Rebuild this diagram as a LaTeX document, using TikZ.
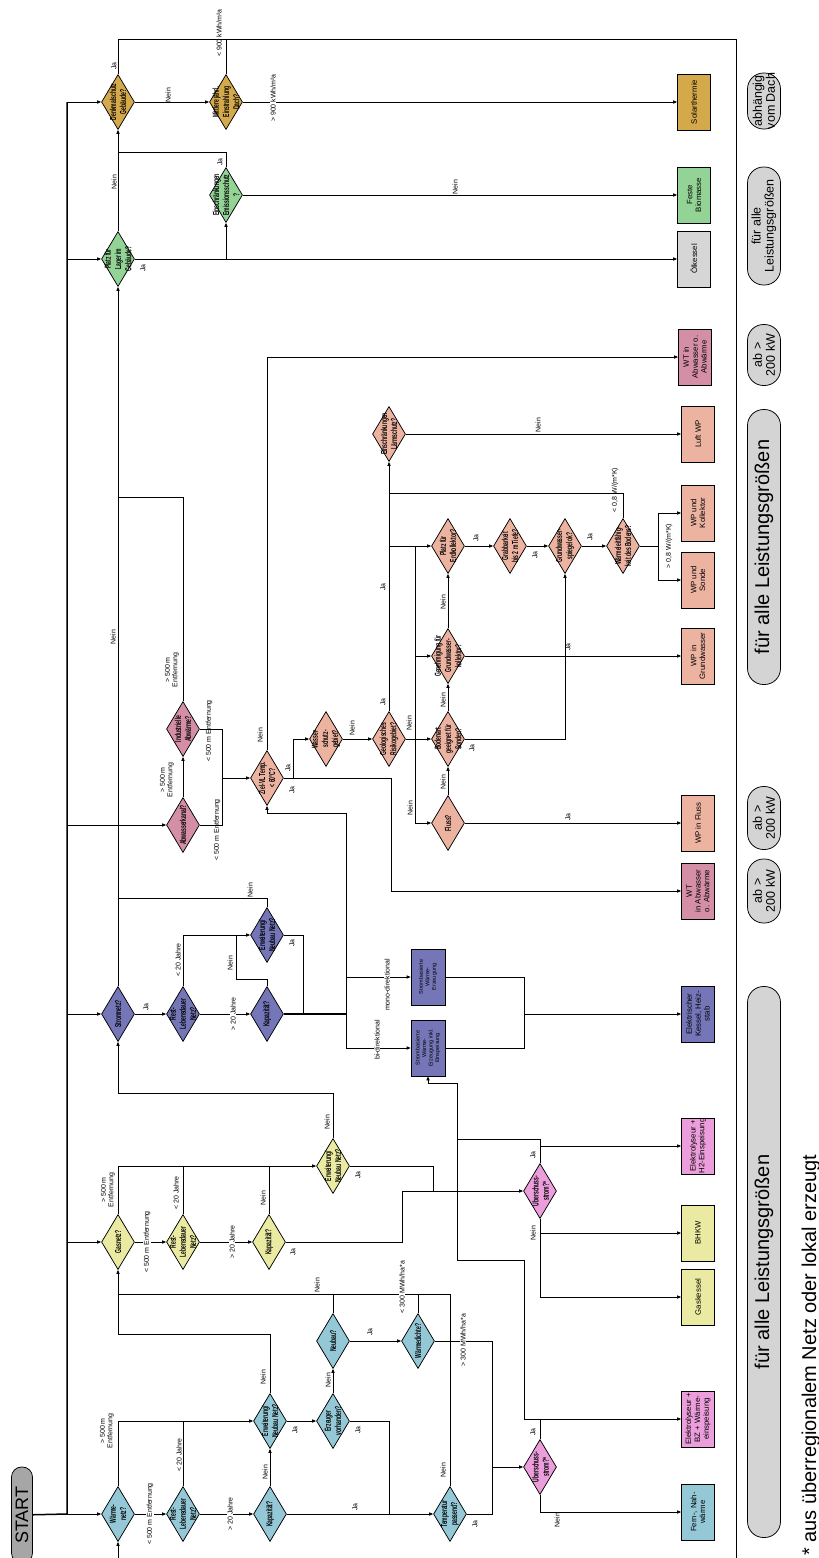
\documentclass[tikz,border=0pt]{standalone}
\usepackage{fontspec}
\setmainfont{Liberation Sans}
\setsansfont{Liberation Sans}
\usetikzlibrary{arrows.meta, shapes.geometric}
\definecolor{cgold}{HTML}{D4A94C}
\definecolor{cgreen}{HTML}{94D396}
\definecolor{cgray}{HTML}{D6D6D6}
\definecolor{cmauve}{HTML}{D48FA6}
\definecolor{csalmon}{HTML}{EDB3A1}
\definecolor{cpurple}{HTML}{7476B8}
\definecolor{cyellow}{HTML}{EAEAA2}
\definecolor{cpink}{HTML}{EB9EDB}
\definecolor{cblue}{HTML}{94C8D6}
\definecolor{cpill}{HTML}{D4D4D4}
\definecolor{cstart}{HTML}{A6A6A6}
\tikzset{every node/.style={font=\sffamily}}

\begin{document}
\begin{tikzpicture}[
  x=1pt, y=-1pt, line width=0.75pt,
  dec/.style={diamond, draw, inner sep=0pt, minimum width=33pt, minimum height=55pt},
  dtxt/.style={rotate=90, yscale=1.75, inner sep=0pt, align=center, font=\fontsize{5}{5.8}\selectfont\bfseries},
  resbox/.style={rectangle, draw, inner sep=0pt, minimum width=33pt, minimum height=56pt},
  btxt/.style={rotate=90, inner sep=0pt, align=center, font=\fontsize{7.8}{8.8}\selectfont},
  stxt/.style={rotate=90, inner sep=0pt, align=center, font=\fontsize{5.5}{6.5}\selectfont},
  pill/.style={draw, fill=cpill, rounded corners=16pt, minimum width=33pt, inner sep=0pt},
  ptxt/.style={rotate=90, inner sep=0pt, align=center, font=\fontsize{12.5}{13}\selectfont},
  bigtxt/.style={rotate=90, inner sep=0pt, font=\fontsize{20}{22}\selectfont},
  lab/.style={rotate=90, inner sep=0.5pt, align=center, font=\fontsize{7}{7.5}\selectfont},
  wlab/.style={lab, fill=white},
  arr/.style={-{Triangle[length=4pt,width=3.2pt]}},
  trunk/.style={line width=1.5pt}
]
\useasboundingbox (0,0) rectangle (819,1558);

% start and trunk
\node[pill, fill=cstart, rounded corners=10pt, minimum width=21pt, minimum height=96pt,
  label={[rotate=90, inner sep=0pt, font=\fontsize{18}{20}\selectfont]center:START}] (start) at (22,1515) {};
\coordinate (t0) at (67,1514);
\coordinate (ttop) at (67,102);
\coordinate (wnin) at (118,1558);
\coordinate (rtop) at (736,39);
\coordinate (rbot) at (736,1558);

% Dach / Lager
\node[dec, fill=cgold, label={[dtxt]center:{Denkmalschutz\\Gebäude?}}] (dsg) at (118,102) {};
\node[dec, fill=cgold, label={[dtxt]center:{Mittlere jährl.\\Einstrahlung\\Dach?}}] (ejd) at (226,102) {};
\node[dec, fill=cgreen, label={[dtxt]center:{Platz für\\Lager im\\Gebäude?}}] (plg) at (118,259) {};
\node[dec, fill=cgreen, label={[dtxt]center:{Einschränkungen\\Emissionsschutz\\?}}] (ems) at (226,195) {};

% Abwasser / Waermepumpe
\node[dec, fill=cmauve, label={[dtxt]center:{Abwasserkanal?}}] (abk) at (183,825) {};
\node[dec, fill=cmauve, label={[dtxt]center:{Industrielle\\Abwärme?}}] (iab) at (183,729) {};
\node[dec, fill=csalmon, label={[dtxt]center:{Ziel-VL Temp.\\< 60°C?}}] (ziel) at (267,778) {};
\node[dec, fill=csalmon, label={[dtxt]center:{Wasser-\\schutz-\\gebiet?}}] (wss) at (326,739) {};
\node[dec, fill=csalmon, label={[dtxt]center:{Geologisches\\Risikogebiet?}}] (geo) at (389,739) {};
\node[dec, fill=csalmon, label={[dtxt]center:{Einschränkungen\\Lärmschutz?}}] (laerm) at (389,434) {};
\node[dec, fill=csalmon, label={[dtxt]center:{Platz für\\Erdkollektor?}}] (pek) at (448,546) {};
\node[dec, fill=csalmon, label={[dtxt]center:{Grabbarkeit\\bis 2 m Tiefe?}}] (grab) at (510,546) {};
\node[dec, fill=csalmon, label={[dtxt]center:{Grundwasser-\\spiegel ok?}}] (gws) at (565,546) {};
\node[dec, fill=csalmon, label={[dtxt]center:{Wärmeleitfähig-\\keit des Bodens?}}] (wlf) at (623,546) {};
\node[dec, fill=csalmon, label={[dtxt]center:{Genehmigung für\\Grundwasser-\\kollektor?}}] (gen) at (448,656) {};
\node[dec, fill=csalmon, label={[dtxt]center:{Bodenart\\geeignet für\\Sonden?}}] (bod) at (448,739) {};
\node[dec, fill=csalmon, label={[dtxt]center:{Fluss?}}] (fluss) at (448,823) {};

% Strom
\node[dec, fill=cpurple, label={[dtxt]center:{Stromnetz?}}] (snz) at (118,1014) {};
\node[dec, fill=cpurple, label={[dtxt]center:{Rest-\\Lebensdauer\\Netz?}}] (srl) at (183,1014) {};
\node[dec, fill=cpurple, label={[dtxt]center:{Kapazität?}}] (skp) at (267,1014) {};
\node[dec, fill=cpurple, label={[dtxt]center:{Erweiterung/\\Neubau Netz?}}] (sew) at (267,935) {};
\node[resbox, fill=cpurple, minimum width=34pt, label={[stxt]center:{Strombasierte\\Wärme-\\Erzeugung}}] (smono) at (428,977) {};
\node[resbox, fill=cpurple, minimum width=34pt, label={[stxt]center:{Strombasierte\\Wärme-\\Erzeugung inkl.\\Einspeisung}}] (sbi) at (428,1048) {};

% Gas
\node[dec, fill=cyellow, label={[dtxt]center:{Gasnetz?}}] (gnz) at (118,1242) {};
\node[dec, fill=cyellow, label={[dtxt]center:{Rest-\\Lebensdauer\\Netz?}}] (grl) at (183,1242) {};
\node[dec, fill=cyellow, label={[dtxt]center:{Kapazität?}}] (gkp) at (269,1242) {};
\node[dec, fill=cyellow, label={[dtxt]center:{Erweiterung/\\Neubau Netz?}}] (gew) at (333,1166) {};
\node[dec, fill=cpink, label={[dtxt]center:{Überschuss-\\strom?*}}] (gub) at (540,1191) {};

% Waermenetz
\node[dec, fill=cblue, label={[dtxt]center:{Wärme-\\netz?}}] (wnz) at (118,1514) {};
\node[dec, fill=cblue, label={[dtxt]center:{Rest-\\Lebensdauer\\Netz?}}] (wrl) at (183,1514) {};
\node[dec, fill=cblue, label={[dtxt]center:{Kapazität?}}] (wkp) at (270,1514) {};
\node[dec, fill=cblue, label={[dtxt]center:{Erweiterung/\\Neubau Netz?}}] (wew) at (270,1421) {};
\node[dec, fill=cblue, label={[dtxt]center:{Erzeuger\\vorhanden?}}] (wez) at (333,1421) {};
\node[dec, fill=cblue, label={[dtxt]center:{Neubau?}}] (wnb) at (333,1341) {};
\node[dec, fill=cblue, label={[dtxt]center:{Wärmedichte?}}] (wwd) at (418,1341) {};
\node[dec, fill=cblue, label={[dtxt]center:{Temperatur\\passend?}}] (wtp) at (450,1514) {};
\node[dec, fill=cpink, label={[dtxt]center:{Überschuss-\\strom?*}}] (wub) at (540,1467) {};

% results
\node[resbox, fill=cgold, label={[btxt]center:{Solarthermie}}] (bsol) at (694,102) {};
\node[resbox, fill=cgreen, label={[btxt]center:{Feste\\Biomasse}}] (bbio) at (694,195) {};
\node[resbox, fill=cgray, label={[btxt]center:{Ölkessel}}] (boel) at (694,259) {};
\node[resbox, fill=cmauve, label={[btxt]center:{WT in\\Abwasser o.\\Abwärme}}] (bwt1) at (695,357) {};
\node[resbox, fill=csalmon, label={[btxt]center:{Luft WP}}] (bluft) at (698,434) {};
\node[resbox, fill=csalmon, label={[btxt]center:{WP und\\Kollektor}}] (bkol) at (698,513) {};
\node[resbox, fill=csalmon, label={[btxt]center:{WP und\\Sonde}}] (bson) at (698,580) {};
\node[resbox, fill=csalmon, label={[btxt]center:{WP in\\Grundwasser}}] (bgw) at (698,656) {};
\node[resbox, fill=csalmon, label={[btxt]center:{WP in Fluss}}] (bflu) at (698,823) {};
\node[resbox, fill=cmauve, label={[btxt]center:{WT\\in Abwasser\\o. Abwärme}}] (bwt2) at (698,891) {};
\node[resbox, fill=cpurple, label={[btxt]center:{Elektrischer\\Kessel, Heiz-\\stab}}] (bkes) at (698,1014) {};
\node[resbox, fill=cpink, label={[btxt]center:{Elektrolyseur +\\H2-Einspeisung}}] (beh2) at (698,1146) {};
\node[resbox, fill=cyellow, label={[btxt]center:{BHKW}}] (bbhk) at (698,1233) {};
\node[resbox, fill=cyellow, label={[btxt]center:{Gaskessel}}] (bgas) at (698,1297) {};
\node[resbox, fill=cpink, label={[btxt]center:{Elektrolyseur +\\BZ + Wärme-\\einspeisung}}] (bebz) at (698,1419) {};
\node[resbox, fill=cblue, label={[btxt]center:{Fern-, Nah-\\wärme}}] (bfern) at (698,1512) {};

% sizes
\node[pill, minimum height=56pt, label={[ptxt]center:{abhängig\\vom Dach}}] (p1) at (764,101) {};
\node[pill, minimum height=118pt, label={[ptxt]center:{für alle\\Leistungsgrößen}}] (p2) at (764,226) {};
\node[pill, minimum height=61pt, label={[ptxt]center:{ab >\\200 kW}}] (p3) at (764,355) {};
\node[pill, minimum height=275pt, label={[bigtxt]center:{für alle Leistungsgrößen}}] (p4) at (764,547) {};
\node[pill, minimum height=63pt, label={[ptxt]center:{ab >\\200 kW}}] (p5) at (764,818) {};
\node[pill, minimum height=64pt, label={[ptxt]center:{ab >\\200 kW}}] (p6) at (764,891) {};
\node[pill, minimum height=551pt, label={[bigtxt]center:{für alle Leistungsgrößen}}] (p7) at (764,1262) {};
\node[bigtxt, anchor=base] (fnote) at (816,1355) {* aus überregionalem Netz oder lokal erzeugt};

% trunk
\draw[trunk] (start) -- (t0) -- (ttop);
\draw[arr] (ttop) -- (dsg);
\draw[arr] (ttop |- plg) -- (plg);
\draw[arr] (ttop |- abk) -- (abk);
\draw[arr] (ttop |- snz) -- (snz);
\draw[arr] (ttop |- gnz) -- (gnz);
\draw[arr] (t0) -- (wnz);
\draw[arr] (wnin) -- (wnz);

% Dach / Lager
\draw[arr] (dsg) -- (ejd);
\draw[arr] (ejd) -- (bsol);
\draw (dsg.north) |- (rtop) -- (rbot);
\draw (ejd.north) -- (ejd.north |- rtop);
\draw[arr] (plg) -- (boel);
\draw[arr] (ems |- plg) -- (ems);
\draw[arr] (plg) -- (dsg);
\draw (ems.north) |- (dsg |- 0,152);
\draw[arr] (ems) -- (bbio);
\draw[arr] (snz) -- (plg);
\draw (iab.north) |- (plg |- 0,497);
\draw (sew.north) |- (plg |- 0,898);

% Abwasser / Waermepumpe
\coordinate (zj) at (222,778);
\coordinate (zj2) at (293,778);
\coordinate (gb) at (415,739);
\coordinate (wj3) at (658,546);
\draw[arr] (abk) -- (iab);
\draw (abk) -| (zj);
\draw (iab) -| (zj);
\draw[arr] (zj) -- (ziel);
\draw[arr] (ziel.north) |- (bwt1);
\draw[arr] (ziel) -- (zj2) |- (wss);
\draw[arr] (zj2) -| (391,891) -- (bwt2);
\draw[arr] (wss) -- (geo);
\draw[arr] (geo) -- (laerm);
\draw[arr] (geo.north |- pek) -- (pek);
\draw[arr] (laerm) -- (bluft);
\draw[arr] (geo) -- (bod);
\draw (gb |- pek) -- (gb |- fluss);
\draw[arr] (gb |- gen) -- (gen);
\draw[arr] (gb |- fluss) -- (fluss);
\draw[arr] (pek) -- (grab);
\draw[arr] (grab) -- (gws);
\draw[arr] (gws) -- (wlf);
\draw (wlf) -- (wj3);
\draw[arr] (wj3) |- (bkol);
\draw[arr] (wj3) |- (bson);
\draw (wlf.north) |- (laerm |- 0,493);
\draw[arr] (gen) -- (bgw);
\draw[arr] (bod) -| (gws);
\draw[arr] (fluss) -- (bflu);
\draw[arr] (fluss) -- (bod);
\draw[arr] (bod) -- (gen);
\draw[arr] (gen) -- (pek);

% Strom
\coordinate (sb) at (346,1014);
\coordinate (ej2) at (524,1014);
\draw[arr] (snz) -- (srl);
\draw[arr] (srl) -- (skp);
\draw[arr] (srl.north) |- (sew);
\draw (skp.north) |- (236,979) -- (236,935);
\draw (sew) -| (303,1014);
\draw[line width=1.1pt] (skp) -- (sb);
\draw[arr] (sb) |- (ziel |- 0,813) -- (ziel);
\draw[arr] (sb) |- (smono);
\draw[arr] (sb) |- (sbi);
\draw (smono) -| (ej2);
\draw (sbi) -| (ej2);
\draw[arr] (ej2) -- (bkes);

% Gas
\coordinate (gj) at (402,1191);
\coordinate (sj) at (457,1083);
\draw[arr] (gnz) -- (grl);
\draw[arr] (grl) -- (gkp);
\draw[arr] (gnz.north) |- (gew);
\draw (grl.north) -- (grl |- gew);
\draw (gkp.north) -- (gkp |- gew);
\draw[arr] (gew.north) |- (snz |- 0,1093) -- (snz);
\draw (gew) -| (433,1191);
\draw (gkp) -| (gj);
\draw[arr] (gj) -- (gub);
\draw[arr] (gub.north) |- (beh2);
\draw[arr] (gub.south) |- (bbhk);
\draw[arr] (gub.south) |- (bgas);
\draw (gub.north) |- (sj |- 0,1139) -- (sj);
\draw[arr] (sj) -| (sbi);

% Waermenetz
\coordinate (wj1) at (389,1514);
\coordinate (wj2) at (492,1467);
\draw[arr] (wnz) -- (wrl);
\draw[arr] (wrl) -- (wkp);
\draw[arr] (wnz.north) |- (wew);
\draw (wrl.north) -- (wrl |- wew);
\draw[arr] (wkp) -- (wew);
\draw[arr] (wew.north) |- (wnz |- 0,1334) -- (gnz);
\draw[arr] (wew) -- (wez);
\draw (wez) -| (wj1);
\draw[arr] (wkp) -- (wtp);
\draw[arr] (wez) -- (wnb);
\draw (wnb.north) -- (wnb |- 0,1294);
\draw (wwd.north) -- (wwd |- 0,1294);
\draw (wtp.north) |- (wnz |- 0,1294);
\draw[arr] (wnb) -- (wwd);
\draw (wwd) -| (wj2);
\draw (wtp) -| (wj2);
\draw[arr] (wj2) -- (wub);
\draw[arr] (wub.north) |- (bebz);
\draw (wub.north |- bebz) -| (524,1260) -| (sj);
\draw[arr] (wub.south) |- (bfern);

% labels
\node[lab] (l1) at (114,66) {Ja};
\node[lab] (l2) at (168,95) {Nein};
\node[lab] (l3) at (219,33) {< 900 kWh/m²a};
\node[wlab] (l4) at (273,98) {> 900 kWh/m²a};
\node[lab] (l5) at (220,162) {Ja};
\node[lab] (l6) at (114,182) {Nein};
\node[lab] (l7) at (143,268) {Ja};
\node[lab] (l8) at (455,187) {Nein};
\node[lab] (l9) at (538,425) {Nein};
\node[lab] (l10) at (260,735) {Nein};
\node[lab] (l11) at (172,670) {> 500 m\\Entfernung};
\node[lab] (l12) at (209,731) {< 500 m Entfernung};
\node[lab] (l13) at (167,780) {> 500 m\\Entfernung};
\node[lab] (l14) at (217,830) {< 500 m Entfernung};
\node[lab] (l15) at (288,768) {Ja};
\node[lab] (l16) at (292,790) {Ja};
\node[lab] (l17) at (352,728) {Nein};
\node[lab] (l18) at (383,702) {Ja};
\node[lab] (l19) at (383,587) {Ja};
\node[lab] (l20) at (409,723) {Nein};
\node[lab] (l21) at (410,808) {Nein};
\node[lab] (l22) at (443,602) {Nein};
\node[lab] (l23) at (443,700) {Nein};
\node[lab] (l24) at (443,782) {Nein};
\node[lab] (l25) at (476,538) {Ja};
\node[lab] (l26) at (535,555) {Ja};
\node[lab] (l27) at (590,537) {Ja};
\node[lab] (l28) at (615,490) {< 0,8 W/(m*K)};
\node[lab] (l29) at (669,546) {> 0,8 W/(m*K)};
\node[lab] (l30) at (568,647) {Ja};
\node[lab] (l31) at (472,748) {Ja};
\node[lab] (l32) at (568,817) {Ja};
\node[lab] (l33) at (113,637) {Nein};
\node[lab] (l34) at (146,1007) {Ja};
\node[lab] (l35) at (178,960) {< 20 Jahre};
\node[wlab] (l36) at (233,1014) {> 20 Jahre};
\node[lab] (l37) at (230,963) {Nein};
\node[lab] (l38) at (250,890) {Nein};
\node[lab] (l39) at (292,943) {Ja};
\node[wlab] (l40) at (387,985) {mono-direktional};
\node[wlab] (l41) at (377,1040) {bi-direktional};
\node[wlab] (l42) at (147,1242) {< 500 m Entfernung};
\node[lab] (l43) at (108,1190) {> 500 m\\Entfernung};
\node[lab] (l44) at (176,1193) {< 20 Jahre};
\node[wlab] (l45) at (232,1242) {> 20 Jahre};
\node[lab] (l46) at (263,1198) {Nein};
\node[lab] (l47) at (327,1122) {Nein};
\node[lab] (l48) at (358,1175) {Ja};
\node[lab] (l49) at (293,1252) {Ja};
\node[lab] (l50) at (533,1155) {Ja};
\node[lab] (l51) at (533,1233) {Nein};
\node[wlab] (l52) at (150,1514) {< 500 m Entfernung};
\node[wlab] (l53) at (230,1514) {> 20 Jahre};
\node[lab] (l54) at (107,1431) {> 500 m\\Entfernung};
\node[lab] (l55) at (179,1455) {< 20 Jahre};
\node[lab] (l56) at (265,1472) {Nein};
\node[lab] (l57) at (263,1377) {Nein};
\node[lab] (l58) at (295,1430) {Ja};
\node[lab] (l59) at (358,1430) {Ja};
\node[lab] (l60) at (328,1380) {Nein};
\node[lab] (l61) at (355,1507) {Ja};
\node[lab] (l62) at (370,1332) {Ja};
\node[lab] (l63) at (317,1285) {Nein};
\node[wlab] (l64) at (402,1287) {< 300 MWh/ha*a};
\node[wlab] (l65) at (463,1340) {> 300 MWh/ha*a};
\node[lab] (l66) at (443,1470) {Nein};
\node[lab] (l67) at (475,1524) {Ja};
\node[lab] (l68) at (533,1432) {Ja};
\node[lab] (l69) at (557,1520) {Nein};
\end{tikzpicture}
\end{document}
